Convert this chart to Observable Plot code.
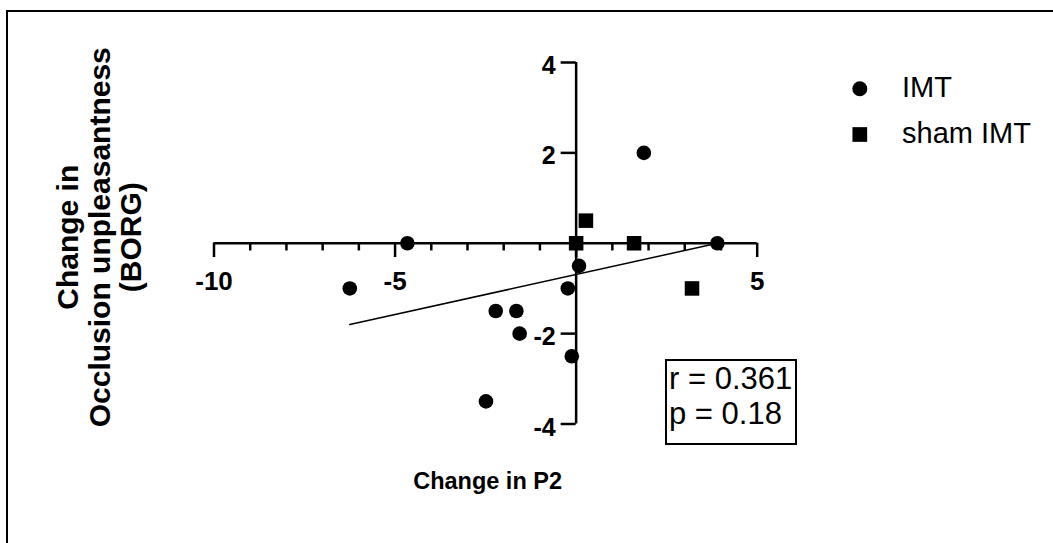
<!DOCTYPE html>
<html><head><meta charset="utf-8">
<script src="https://cdn.jsdelivr.net/npm/d3@7"></script>
<script src="https://cdn.jsdelivr.net/npm/@observablehq/plot@0.6"></script>
<style>
body{margin:0;background:#fff;font-family:"Liberation Sans",Arial,sans-serif;}
#wrap{position:relative;width:1053px;height:543px;overflow:hidden;background:#fff;}
#border{position:absolute;left:6px;top:9.5px;width:1100px;height:600px;border-left:2.5px solid #000;border-top:2.5px solid #000;box-sizing:border-box;}
#chart{position:absolute;left:0;top:0;}
#stats{position:absolute;left:665px;top:359px;width:132px;height:86px;border:2.5px solid #000;box-sizing:border-box;font-size:31px;line-height:35px;padding:0 0 0 2px;color:#000;white-space:nowrap;}
</style></head><body>
<div id="wrap"><div id="border"></div><div id="chart"></div><div id="stats"></div></div>
<script>
// ---- data ----
const imtX = [-4.66, -6.25, 0.08, -0.23, -2.22, -1.65, -1.56, -0.12, -2.49, 1.87, 3.9];
const imtY = [0, -1, -0.5, -1, -1.5, -1.5, -2, -2.5, -3.5, 2, 0];
const shamX = [0, 0.27, 1.6, 3.2];
const shamY = [0, 0.5, 0, -1];
const fitX = [-6.25, 3.9];
const fitY = [-1.8, 0];
const xMajorTicks = [-10, -5, 0, 5];
const xMinorTicks = [-9, -8, -7, -6, -4, -3, -2, -1, 1, 2, 3, 4];
const xTickLabels = [-10, -5, 5];
const yMajorTicks = [-4, -2, 2, 4];
const yTickLabels = [-4, -2, 2, 4];
const seriesNames = ["IMT", "sham IMT"];
const statsLines = ["r = 0.361", "p = 0.18"];
const xTitle = "Change in P2";
const yTitle = "Change in\nOcclusion unpleasantness\n(BORG)";

// ---- layout ----
const W = 1053, H = 543;
const mL = 213.5, mR = W - 756.7, mT = 62, mB = H - 423.5;
const ky = (H - mT - mB) / 8;
const kx = (W - mL - mR) / 15;
const font = "Liberation Sans, Arial, sans-serif";

const imt = imtX.map((x, i) => ({x, y: imtY[i]}));
const sham = shamX.map((x, i) => ({x, y: shamY[i]}));
const fit = fitX.map((x, i) => ({x, y: fitY[i]}));

const chart = Plot.plot({
  width: W, height: H,
  marginLeft: mL, marginRight: mR, marginTop: mT, marginBottom: mB,
  style: {fontFamily: font, background: "transparent", overflow: "visible"},
  x: {domain: [-10, 5], axis: null},
  y: {domain: [-4, 4], axis: null},
  marks: [
    // axes
    Plot.ruleY([0], {x1: -10, x2: 5, stroke: "black", strokeWidth: 2.5}),
    Plot.ruleX([0], {y1: -4, y2: 4, stroke: "black", strokeWidth: 2.5}),
    Plot.ruleX(xMajorTicks, {x: d => d, y1: 0, y2: -14.3 / ky, stroke: "black", strokeWidth: 2.5}),
    Plot.ruleX(xMinorTicks, {x: d => d, y1: 0, y2: -7.7 / ky, stroke: "black", strokeWidth: 2.5}),
    Plot.ruleY(yMajorTicks, {y: d => d, x1: 0, x2: -15 / kx, stroke: "black", strokeWidth: 2.5}),
    Plot.text(xTickLabels, {x: d => d, y: 0, text: d => String(d), dy: 38.5, fontSize: 26, fontWeight: "bold", fill: "black", lineAnchor: "middle", textAnchor: "middle"}),
    Plot.text(yTickLabels, {x: 0, y: d => d, text: d => String(d), dx: -20.5, dy: 3.5, fontSize: 25, fontWeight: "bold", fill: "black", lineAnchor: "middle", textAnchor: "end"}),
    // fit line
    Plot.line(fit, {x: "x", y: "y", stroke: "black", strokeWidth: 1.5}),
    // data
    Plot.dot(imt, {x: "x", y: "y", r: 7.3, fill: "black", symbol: "circle"}),
    Plot.dot(sham, {x: "x", y: "y", r: 8.2, fill: "black", symbol: "square"}),
    // titles
    Plot.text([xTitle], {frameAnchor: "bottom", dx: 2, dy: 57, fontSize: 23.5, fontWeight: "bold", fill: "black", lineAnchor: "middle", textAnchor: "middle"}),
    Plot.text([yTitle], {frameAnchor: "left", dx: -114.5, dy: -6, rotate: -90, fontSize: 30, fontWeight: "bold", fill: "black", lineAnchor: "middle", textAnchor: "middle", lineHeight: 1.05}),
    // legend
    Plot.dot([seriesNames[0]], {frameAnchor: "top-left", dx: 859.3 - mL, dy: 88.3 - mT, r: 7.5, fill: "black", symbol: "circle"}),
    Plot.dot([seriesNames[1]], {frameAnchor: "top-left", dx: 859.3 - mL, dy: 134 - mT, r: 8.3, fill: "black", symbol: "square"}),
    Plot.text([seriesNames[0]], {frameAnchor: "top-left", dx: 901.5 - mL, dy: 87 - mT, fontSize: 29, fill: "black", textAnchor: "start", lineAnchor: "middle"}),
    Plot.text([seriesNames[1]], {frameAnchor: "top-left", dx: 901.5 - mL, dy: 133 - mT, fontSize: 29, fill: "black", textAnchor: "start", lineAnchor: "middle"})
  ]
});
document.getElementById("chart").appendChild(chart);
document.getElementById("stats").innerHTML = statsLines.map(s => `<div>${s}</div>`).join("");
</script>
</body></html>
